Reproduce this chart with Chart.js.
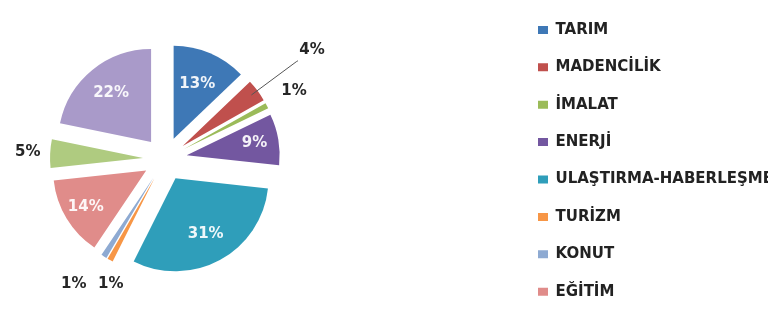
<!DOCTYPE html>
<html>
<head>
<meta charset="utf-8">
<script src="https://cdn.jsdelivr.net/npm/chart.js@4/dist/chart.umd.min.js"></script>
<style>
html,body{margin:0;padding:0;background:#fff;overflow:hidden}
#wrap{width:768px;height:323px;position:relative}
</style>
</head>
<body>
<div id="wrap"><canvas id="c" width="768" height="323"></canvas></div>
<script>
// ---- data ----
const categories = ['TARIM','MADENCİLİK','İMALAT','ENERJİ','ULAŞTIRMA-HABERLEŞME','TURİZM','KONUT','EĞİTİM','SAĞLIK','DİĞER KAMU HİZMETLERİ'];
const shares = [13, 4, 1, 9, 31, 1, 1, 14, 5, 22];
const shareLabels = shares.map(v => v + '%');
const legendCount = 8; // only the first 8 entries are visible in the legend

// ---- style ----
const colors = ['#3E78B6','#C0504D','#9BBB59','#7357A0','#2F9EBA','#F79646','#8EAAD2','#E08C8A','#AFCB80','#A99AC9'];
const EXPLODE = 22;   // px each slice is pulled out from the centre
const RADIUS = 93;
// label placement: r = distance beyond the explode offset as fraction of radius
const labelStyle = [
  {r:0.645, inside:true},
  {r:1.73, leader:true},
  {r:1.33},
  {r:0.74, inside:true},
  {r:0.68, inside:true},
  {r:1.226, da:-5},
  {r:1.43, da:4},
  {r:0.76, inside:true},
  {r:1.24},
  {r:0.68, inside:true}
];
const FONT = "'DejaVu Sans', sans-serif";

// draws every arc element of the library, pulled out along its mid angle
const explode = {
  id: 'explode',
  beforeDatasetDraw(chart, args) {
    const ctx = chart.ctx;
    args.meta.data.forEach(arc => {
      const m = (arc.startAngle + arc.endAngle) / 2;
      ctx.save();
      ctx.translate(Math.cos(m) * EXPLODE, Math.sin(m) * EXPLODE);
      arc.draw(ctx, chart.chartArea);
      ctx.restore();
    });
    return false;
  }
};

const sliceLabels = {
  id: 'sliceLabels',
  afterDatasetsDraw(chart) {
    const ctx = chart.ctx;
    const meta = chart.getDatasetMeta(0);
    ctx.save();
    ctx.font = 'bold 15px ' + FONT;
    ctx.textAlign = 'center';
    ctx.textBaseline = 'middle';
    meta.data.forEach((arc, i) => {
      const st = labelStyle[i];
      const p = arc.getProps(['x','y','startAngle','endAngle','outerRadius'], true);
      const midRaw = (p.startAngle + p.endAngle) / 2;
      const mid = midRaw + (st.da || 0) * Math.PI / 180;
      const d = EXPLODE + st.r * p.outerRadius;
      const lx = p.x + Math.cos(mid) * d;
      const ly = p.y + Math.sin(mid) * d;
      if (st.leader) {
        const d0 = EXPLODE + p.outerRadius * 0.92;
        const d1 = EXPLODE + p.outerRadius * 1.52;
        const x0 = p.x + Math.cos(midRaw) * d0, y0 = p.y + Math.sin(midRaw) * d0;
        const x1 = p.x + Math.cos(midRaw) * d1, y1 = p.y + Math.sin(midRaw) * d1;
        ctx.strokeStyle = '#555';
        ctx.lineWidth = 1;
        ctx.beginPath();
        ctx.moveTo(x0, y0);
        ctx.lineTo(x1, y1);
        ctx.lineTo(lx - 14, y1 - 1);
        ctx.stroke();
      }
      ctx.fillStyle = st.inside ? 'rgba(255,255,255,0.92)' : '#262626';
      ctx.fillText(shareLabels[i], lx, ly);
    });
    ctx.restore();
  }
};

const placeBoxes = {
  id: 'placeBoxes',
  afterLayout(chart) {
    chart.chartArea = {left:0, top:0, right:330, bottom:318, width:330, height:318};
    const lg = chart.legend;
    if (lg) {
      lg.left = 515.6; lg.right = 768; lg.width = 768 - 515.6;
      lg.top = 0; lg.bottom = 323; lg.height = 323;
    }
  }
};

new Chart(document.getElementById('c'), {
  type: 'pie',
  data: {
    labels: categories,
    datasets: [{
      data: shares,
      backgroundColor: colors,
      borderWidth: 0,
      offset: 0,
      hoverOffset: 0,
      radius: RADIUS
    }]
  },
  options: {
    responsive: false,
    animation: false,
    layout: { padding: 0 },
    plugins: {
      tooltip: { enabled: false },
      legend: {
        position: 'right',
        align: 'start',
        labels: {
          boxWidth: 10,
          boxHeight: 8,
          padding: 22.4,
          color: '#222',
          font: { family: FONT, size: 15, weight: 'bold' },
          filter: (item) => item.index < legendCount
        }
      }
    }
  },
  plugins: [explode, sliceLabels, placeBoxes]
});
</script>
</body>
</html>
